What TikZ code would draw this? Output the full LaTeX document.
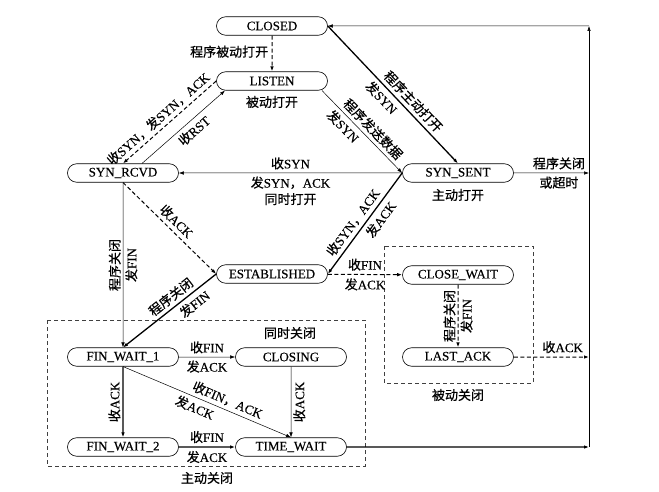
\documentclass[tikz,border=0pt]{standalone}
\usepackage{fontspec}
\setmainfont[FakeBold=0.3]{Liberation Serif}
\newfontfamily\cjk[FakeBold=0.6]{Noto Sans CJK SC}
\usetikzlibrary{calc}
\usetikzlibrary{arrows.meta}
\usetikzlibrary{shapes.misc}
\newcommand{\zh}[1]{{\cjk #1}}

\begin{document}
\begin{tikzpicture}[x=1pt, y=-1pt, >={Latex[length=5pt, width=3.5pt]}, font=\fontsize{13}{16.5}\selectfont]
    \tikzstyle{state} = [draw, rounded rectangle, minimum width=111pt, minimum height=18.5pt, inner sep=0pt, line width=0.6pt]
    \tikzstyle{thin line} = [->, line width=0.5pt]
    \tikzstyle{thick line} = [->, line width=1.3pt]
    \tikzstyle{dashed line} = [->, line width=1pt, dash pattern=on 4pt off 2.5pt]
    \tikzstyle{region} = [draw=black!75, line width=0.7pt, dash pattern=on 4pt off 3pt]
    \tikzstyle{vlabel} = [rotate=90, inner sep=2pt]
    \tikzstyle{slabel} = [sloped, inner sep=3.5pt]

    \useasboundingbox (0, 0) rectangle (659, 492);

    \draw[region] (47, 320) rectangle (365, 466);
    \draw[region] (384, 246) rectangle (533, 383);

    \node[state] (closed) at (272, 26) {CLOSED};
    \node[state] (listen) at (272, 81) {LISTEN};
    \node[state] (synrcvd) at (123, 173) {SYN\_RCVD};
    \node[state] (synsent) at (458, 173) {SYN\_SENT};
    \node[state] (established) at (272, 274) {ESTABLISHED};
    \node[state] (closewait) at (458, 275) {CLOSE\_WAIT};
    \node[state] (lastack) at (458, 357) {LAST\_ACK};
    \node[state] (finwait1) at (123, 357) {FIN\_WAIT\_1};
    \node[state] (closing) at (291, 357) {CLOSING};
    \node[state] (finwait2) at (123, 447) {FIN\_WAIT\_2};
    \node[state] (timewait) at (291, 447) {TIME\_WAIT};

    \node (passiveopen) at (272, 102) {\zh{被动打开}};
    \node (activeopen) at (458, 195) {\zh{主动打开}};
    \node (simclose) at (290, 333) {\zh{同时关闭}};
    \node (activeclose) at (207, 478) {\zh{主动关闭}};
    \node (passiveclose) at (458, 395) {\zh{被动关闭}};

    \coordinate (cornerlow) at (589, 447);
    \coordinate (cornerhigh) at (589, 26);

    \draw[dashed line] (closed) -- node[left, pos=0.45] {\zh{程序被动打开}} (listen);
    \draw[thick line] (closed.east) -- node[slabel, above, pos=0.6] {\zh{程序主动打开}} node[slabel, below, pos=0.47] {\zh{发}SYN} (synsent.north);
    \draw[dashed line] (listen.west) -- node[slabel, above, pos=0.55] {\zh{收}SYN\zh{，发}SYN\zh{，}ACK} (synrcvd.north);
    \draw[thin line] ($(synrcvd.north)+(19, 0)$) -- node[slabel, below, pos=0.55] {\zh{收}RST} ($(listen.south)+(-47, 0)$);
    \draw[thin line] ($(listen.south)+(50, 0)$) -- node[slabel, above, pos=0.55] {\zh{程序发送数据}} node[slabel, below, pos=0.35] {\zh{发}SYN} (synsent.west);
    \draw[thin line] (synsent) -- node[above] {\zh{收}SYN} node[below, align=center] {\zh{发}SYN\zh{，}ACK\\\zh{同时打开}} (synrcvd);
    \draw[thick line] (synsent.west) -- node[slabel, above, pos=0.55] {\zh{收}SYN\zh{，}ACK} node[slabel, below, pos=0.4] {\zh{发}ACK} (established.east);
    \draw[dashed line] (synrcvd.south) -- node[slabel, above] {\zh{收}ACK} (established.west);
    \draw[thin line] (synrcvd) -- node[vlabel, above] {\zh{程序关闭}} node[vlabel, below] {\zh{发}FIN} (finwait1);
    \draw[thick line] (established.west) -- node[slabel, above, pos=0.42] {\zh{程序关闭}} node[slabel, below, pos=0.3] {\zh{发}FIN} (finwait1.north);
    \draw[dashed line] (established) -- node[above] {\zh{收}FIN} node[below] {\zh{发}ACK} (closewait);
    \draw[dashed line] (closewait) -- node[vlabel, above] {\zh{程序关闭}} node[vlabel, below] {\zh{发}FIN} (lastack);
    \draw[thin line] (finwait1) -- node[above] {\zh{收}FIN} node[below] {\zh{发}ACK} (closing);
    \draw[thick line] (finwait1) -- node[vlabel, above] {\zh{收}ACK} (finwait2);
    \draw[thin line] (closing) -- node[vlabel, below] {\zh{收}ACK} (timewait);
    \draw[thin line] (finwait1.south) -- node[slabel, above, pos=0.6] {\zh{收}FIN\zh{，}ACK} node[slabel, below, pos=0.45] {\zh{发}ACK} (timewait.north);
    \draw[thick line] (finwait2) -- node[above] {\zh{收}FIN} node[below] {\zh{发}ACK} (timewait);
    \draw[thick line] (timewait) -- (cornerlow);
    \draw[thin line] (cornerlow) -- (cornerhigh);
    \draw[thin line] (cornerhigh) -- (closed);
    \draw[thin line] (synsent) -- node[above, pos=0.6] {\zh{程序关闭}} node[below, pos=0.6] {\zh{或超时}} (synsent -| cornerlow);
    \draw[dashed line] (lastack) -- node[above, pos=0.65] {\zh{收}ACK} (lastack -| cornerlow);
\end{tikzpicture}
\end{document}
